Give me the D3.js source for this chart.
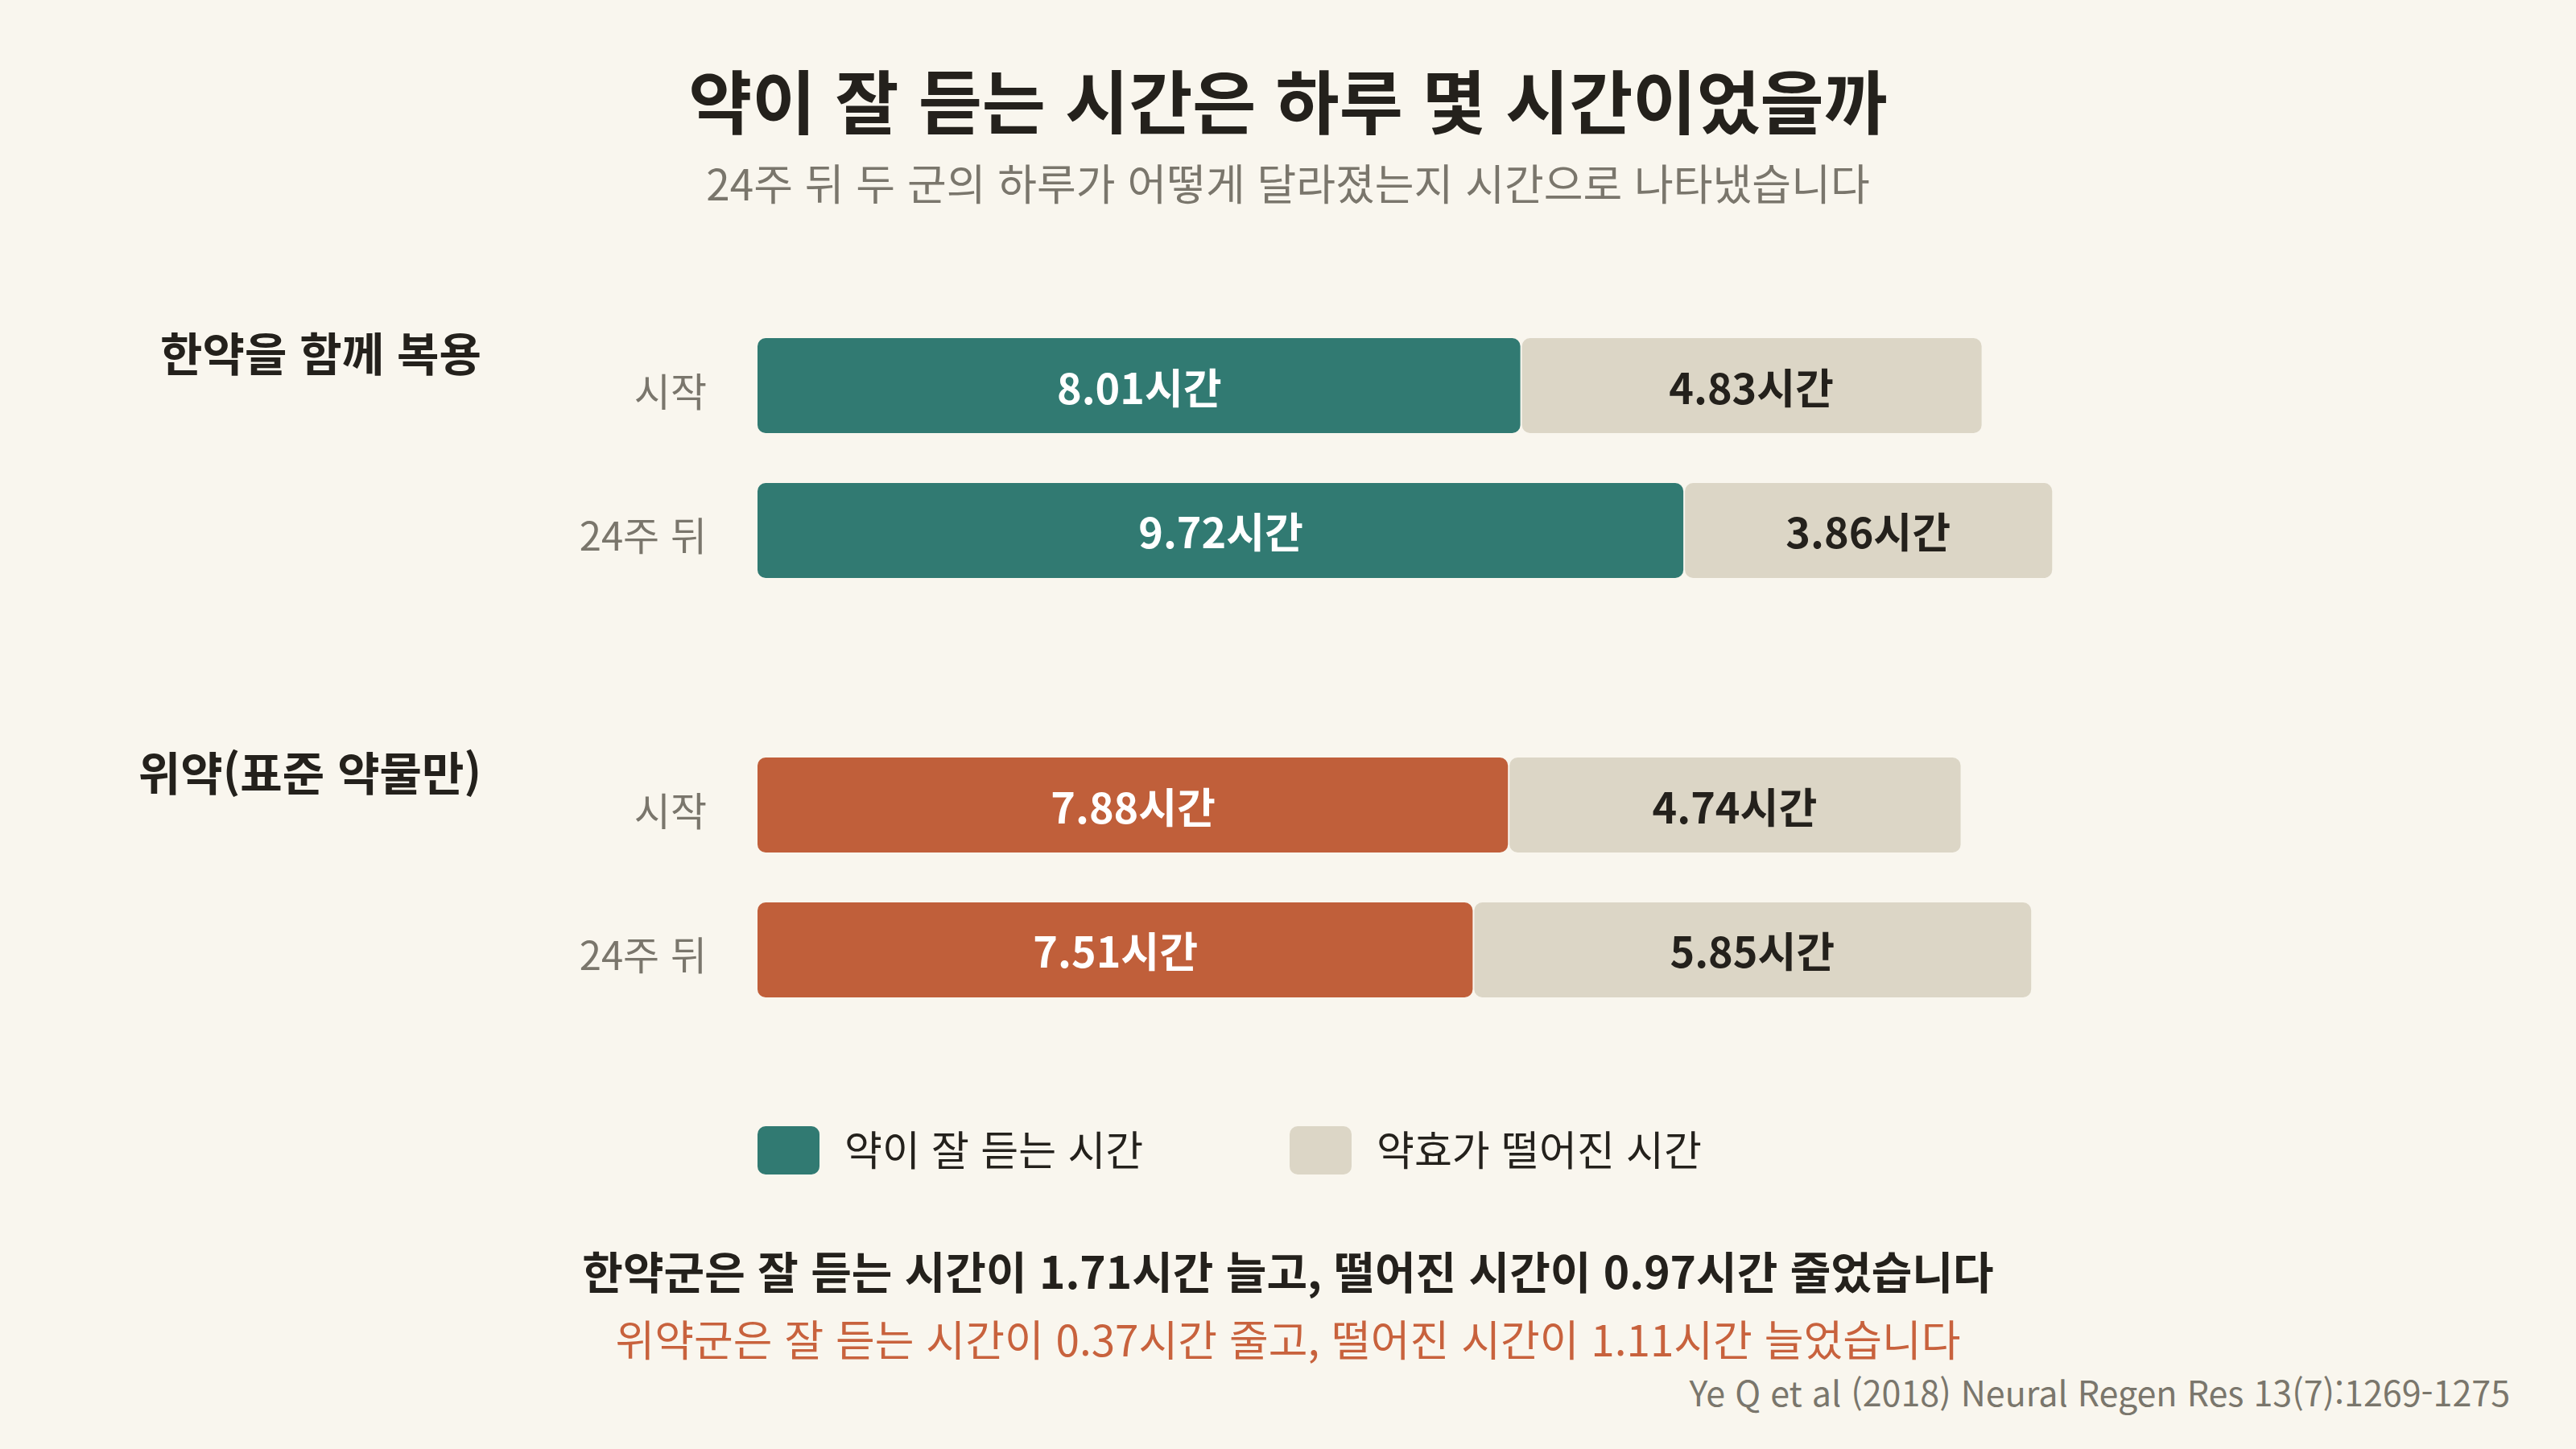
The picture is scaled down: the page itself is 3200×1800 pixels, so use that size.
<!DOCTYPE html>
<html lang="ko">
  <head>
    <meta charset="UTF-8" />
    <title>약이 잘 듣는 시간</title>
    <style>
      body {
        margin: 0;
        padding: 0;
        background-color: #f9f6ee;
        font-family: "Noto Sans CJK KR", "Noto Sans", sans-serif;
      }
      svg text {
        font-family: "Noto Sans CJK KR", "Noto Sans", sans-serif;
      }
    </style>
  </head>
  <body>
    <svg id="chart"></svg>

    <script src="https://cdn.jsdelivr.net/npm/d3@7"></script>
    <script>
      const width = 3200;
      const height = 1800;

      // data
      const groups = ["한약을 함께 복용", "위약(표준 약물만)"];
      const times = ["시작", "24주 뒤"];
      const onHours = [
        [8.01, 9.72],
        [7.88, 7.51]
      ];
      const offHours = [
        [4.83, 3.86],
        [4.74, 5.85]
      ];
      const groupColors = ["#317a72", "#c05f3a"];
      const offColor = "#dcd6c6";
      const legendLabels = ["약이 잘 듣는 시간", "약효가 떨어진 시간"];
      const notes = [
        "한약군은 잘 듣는 시간이 1.71시간 늘고, 떨어진 시간이 0.97시간 줄었습니다",
        "위약군은 잘 듣는 시간이 0.37시간 줄고, 떨어진 시간이 1.11시간 늘었습니다"
      ];

      const svg = d3
        .select("#chart")
        .attr("width", width)
        .attr("height", height)
        .style("display", "block");

      svg
        .append("rect")
        .attr("width", width)
        .attr("height", height)
        .attr("fill", "#f9f6ee");

      // title + subtitle
      svg
        .append("text")
        .attr("x", 1600)
        .attr("y", 122)
        .attr("text-anchor", "middle")
        .attr("dominant-baseline", "central")
        .attr("font-size", 86)
        .attr("font-weight", 700)
        .attr("fill", "#24211c")
        .text("약이 잘 듣는 시간은 하루 몇 시간이었을까");

      svg
        .append("text")
        .attr("x", 1600)
        .attr("y", 226)
        .attr("text-anchor", "middle")
        .attr("dominant-baseline", "central")
        .attr("font-size", 53)
        .attr("fill", "#7a766c")
        .text("24주 뒤 두 군의 하루가 어떻게 달라졌는지 시간으로 나타냈습니다");

      // scales
      const x = d3.scaleLinear().domain([0, 14]).range([941, 2599]);

      const yGroup = d3
        .scaleBand()
        .domain(groups)
        .range([420, 1239])
        .paddingInner(0.428)
        .paddingOuter(0);

      const yRow = d3
        .scaleBand()
        .domain(times)
        .range([0, yGroup.bandwidth()])
        .paddingInner(0.344)
        .paddingOuter(0);

      const bh = yRow.bandwidth();

      groups.forEach(function (g, gi) {
        const gy = yGroup(g);

        // group label
        svg
          .append("text")
          .attr("x", 598)
          .attr("y", gy + 16)
          .attr("text-anchor", "end")
          .attr("dominant-baseline", "central")
          .attr("font-size", 57)
          .attr("font-weight", 700)
          .attr("fill", "#24211c")
          .text(g);

        times.forEach(function (t, ti) {
          const y0 = gy + yRow(t);
          const on = onHours[gi][ti];
          const off = offHours[gi][ti];

          // row label
          svg
            .append("text")
            .attr("x", 878)
            .attr("y", y0 + bh / 2 + 4)
            .attr("text-anchor", "end")
            .attr("dominant-baseline", "central")
            .attr("font-size", 49)
            .attr("fill", "#7a766c")
            .text(t);

          // on segment
          svg
            .append("rect")
            .attr("x", x(0))
            .attr("y", y0)
            .attr("width", x(on) - x(0) - 1)
            .attr("height", bh)
            .attr("rx", 10)
            .attr("fill", groupColors[gi]);

          // off segment
          svg
            .append("rect")
            .attr("x", x(on) + 1)
            .attr("y", y0)
            .attr("width", x(on + off) - x(on) - 1)
            .attr("height", bh)
            .attr("rx", 10)
            .attr("fill", offColor);

          svg
            .append("text")
            .attr("x", (x(0) + x(on)) / 2)
            .attr("y", y0 + bh / 2)
            .attr("text-anchor", "middle")
            .attr("dominant-baseline", "central")
            .attr("font-size", 52)
            .attr("font-weight", 700)
            .attr("fill", "#ffffff")
            .text(on.toFixed(2) + "시간");

          svg
            .append("text")
            .attr("x", (x(on) + x(on + off)) / 2)
            .attr("y", y0 + bh / 2)
            .attr("text-anchor", "middle")
            .attr("dominant-baseline", "central")
            .attr("font-size", 52)
            .attr("font-weight", 700)
            .attr("fill", "#24211c")
            .text(off.toFixed(2) + "시간");
        });
      });

      // legend
      const legendX = [941, 1602];
      legendLabels.forEach(function (label, i) {
        svg
          .append("rect")
          .attr("x", legendX[i])
          .attr("y", 1399)
          .attr("width", 77)
          .attr("height", 60)
          .attr("rx", 10)
          .attr("fill", i === 0 ? groupColors[0] : offColor);

        svg
          .append("text")
          .attr("x", legendX[i] + 108)
          .attr("y", 1426)
          .attr("dominant-baseline", "central")
          .attr("font-size", 51)
          .attr("fill", "#24211c")
          .text(label);
      });

      // notes
      svg
        .append("text")
        .attr("x", 1600)
        .attr("y", 1577)
        .attr("text-anchor", "middle")
        .attr("dominant-baseline", "central")
        .attr("font-size", 55)
        .attr("font-weight", 700)
        .attr("fill", "#24211c")
        .text(notes[0]);

      svg
        .append("text")
        .attr("x", 1600)
        .attr("y", 1662)
        .attr("text-anchor", "middle")
        .attr("dominant-baseline", "central")
        .attr("font-size", 53)
        .attr("fill", "#c8623d")
        .text(notes[1]);

      svg
        .append("text")
        .attr("x", 3118)
        .attr("y", 1728)
        .attr("text-anchor", "end")
        .attr("dominant-baseline", "central")
        .attr("font-size", 43)
        .attr("fill", "#7a766c")
        .text("Ye Q et al (2018) Neural Regen Res 13(7):1269-1275");
    </script>
  </body>
</html>
